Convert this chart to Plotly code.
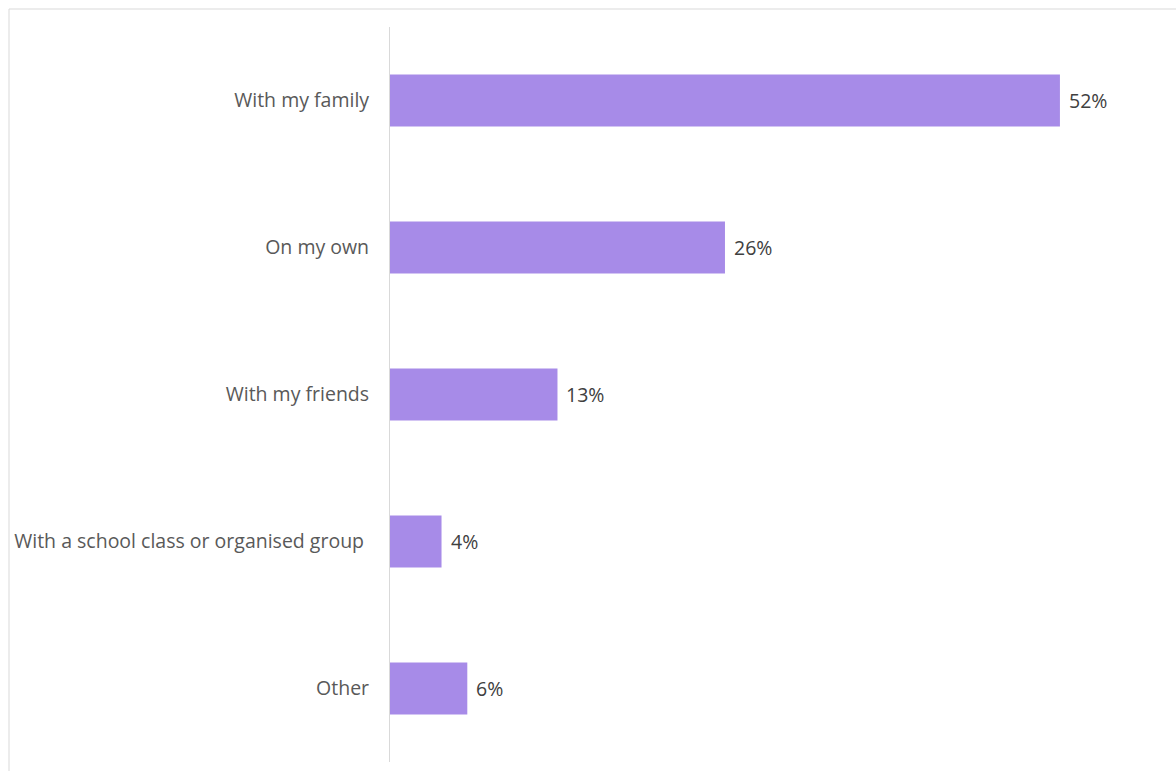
import plotly.graph_objects as go

categories = ["With my family", "On my own", "With my friends",
              "With a school class or organised group ", "Other"]
values = [52, 26, 13, 4, 6]
value_labels = ["52%", "26%", "13%", "4%", "6%"]

BAR_COLOR = "#A78BE8"
FONT = "Open Sans"
FSIZE = 19.5

fig = go.Figure()
fig.add_trace(go.Bar(
    x=values, y=categories, orientation="h",
    marker=dict(color=BAR_COLOR, line=dict(width=0)),
    hoverinfo="skip",
))

for c, v, t in zip(categories, values, value_labels):
    fig.add_annotation(x=v, y=c, text=t, showarrow=False, xanchor="left",
                       xshift=7, font=dict(family=FONT, size=FSIZE, color="#404040"))

L, R, T, B = 390, 13, 27, 9
W, H = 1176, 771
pw, ph = W - L - R, H - T - B

fig.add_shape(type="rect", xref="paper", yref="paper",
              x0=(9 - L) / pw, x1=1.2, y0=-0.2, y1=1 + (T - 9) / ph,
              line=dict(color="#D9D9D9", width=1), fillcolor="rgba(0,0,0,0)", layer="below")

fig.update_layout(
    width=W, height=H,
    margin=dict(l=L, r=R, t=T, b=B),
    plot_bgcolor="white", paper_bgcolor="white",
    bargap=0.646, showlegend=False,
    font=dict(family=FONT, size=FSIZE, color="#595959"),
    xaxis=dict(range=[0, 60], showgrid=False, zeroline=False, showticklabels=False,
               showline=False, fixedrange=True),
    yaxis=dict(autorange="reversed", showgrid=False, zeroline=False, showline=True,
               linecolor="#D9D9D9", linewidth=1, ticks="", ticklabelstandoff=16,
               tickfont=dict(family=FONT, size=FSIZE, color="#595959")),
)

fig.write_html("out.html")
